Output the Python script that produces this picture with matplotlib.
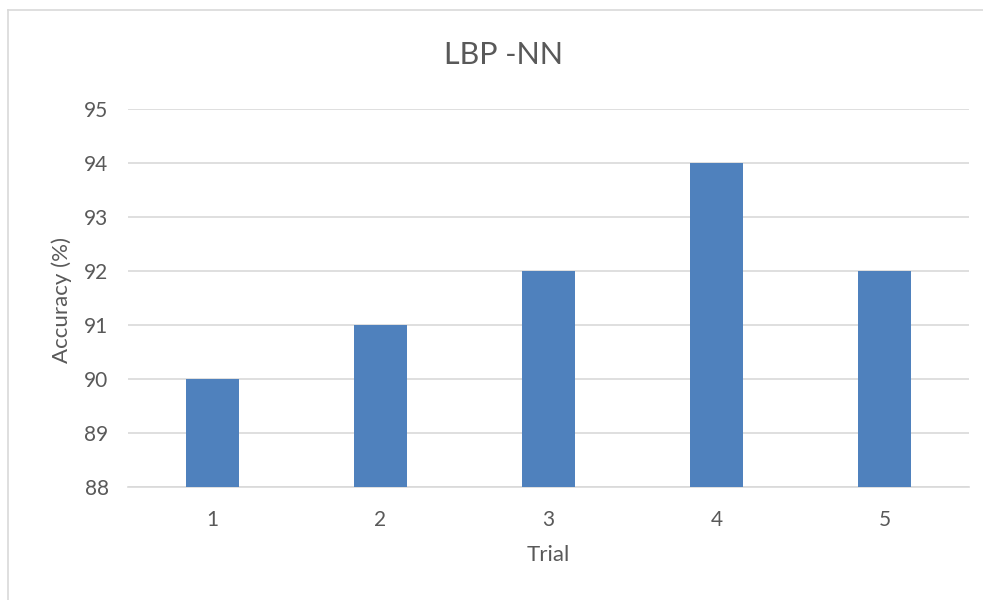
import matplotlib
matplotlib.use("Agg")
import matplotlib.pyplot as plt
from matplotlib.lines import Line2D

# data
trials = ["1", "2", "3", "4", "5"]
accuracy = [90, 91, 92, 94, 92]
yticks = [88, 89, 90, 91, 92, 93, 94, 95]

grey = "#595959"
plt.rcParams['font.family'] = ['Lato', 'DejaVu Sans']

fig = plt.figure(figsize=(9.83, 6.0), dpi=100)
ax = fig.add_axes([128 / 983, 1 - 486.7 / 600, (969 - 128) / 983, (486.7 - 109) / 600])

x = range(len(trials))
ax.bar(x, accuracy, width=0.315, color="#4F81BD", zorder=3)

ax.set_xlim(-0.5, len(trials) - 0.5)
ax.set_ylim(88, 95)
ax.set_yticks(yticks)
ax.set_xticks(list(x))
ax.set_xticklabels(trials)
ax.yaxis.grid(True, color="#D9D9D9", linewidth=1.2, zorder=0)
ax.tick_params(axis="both", length=0, labelsize=15, labelcolor=grey)
ax.tick_params(axis="y", pad=14)
ax.tick_params(axis="x", pad=17)
for side in ["top", "right", "left"]:
    ax.spines[side].set_visible(False)
ax.spines["bottom"].set_color("#D9D9D9")
ax.spines["bottom"].set_linewidth(1.2)

fig.text(503 / 983, 1 - 55 / 600, "LBP -NN", ha="center", va="center", fontsize=22, color=grey)
fig.text(548 / 983, 1 - 555 / 600, "Trial", ha="center", va="center", fontsize=16, color=grey)
fig.text(62 / 983, 1 - 300 / 600, "Accuracy (%)", ha="center", va="center", rotation=90, fontsize=16, color=grey)

# outer chart border (only top and left visible)
fig.add_artist(Line2D([8 / 983, 1], [1 - 10 / 600, 1 - 10 / 600], color="#D9D9D9", lw=1.2, transform=fig.transFigure))
fig.add_artist(Line2D([8 / 983, 8 / 983], [0, 1 - 10 / 600], color="#D9D9D9", lw=1.2, transform=fig.transFigure))

fig.savefig("out.png", dpi=100, facecolor="white")
